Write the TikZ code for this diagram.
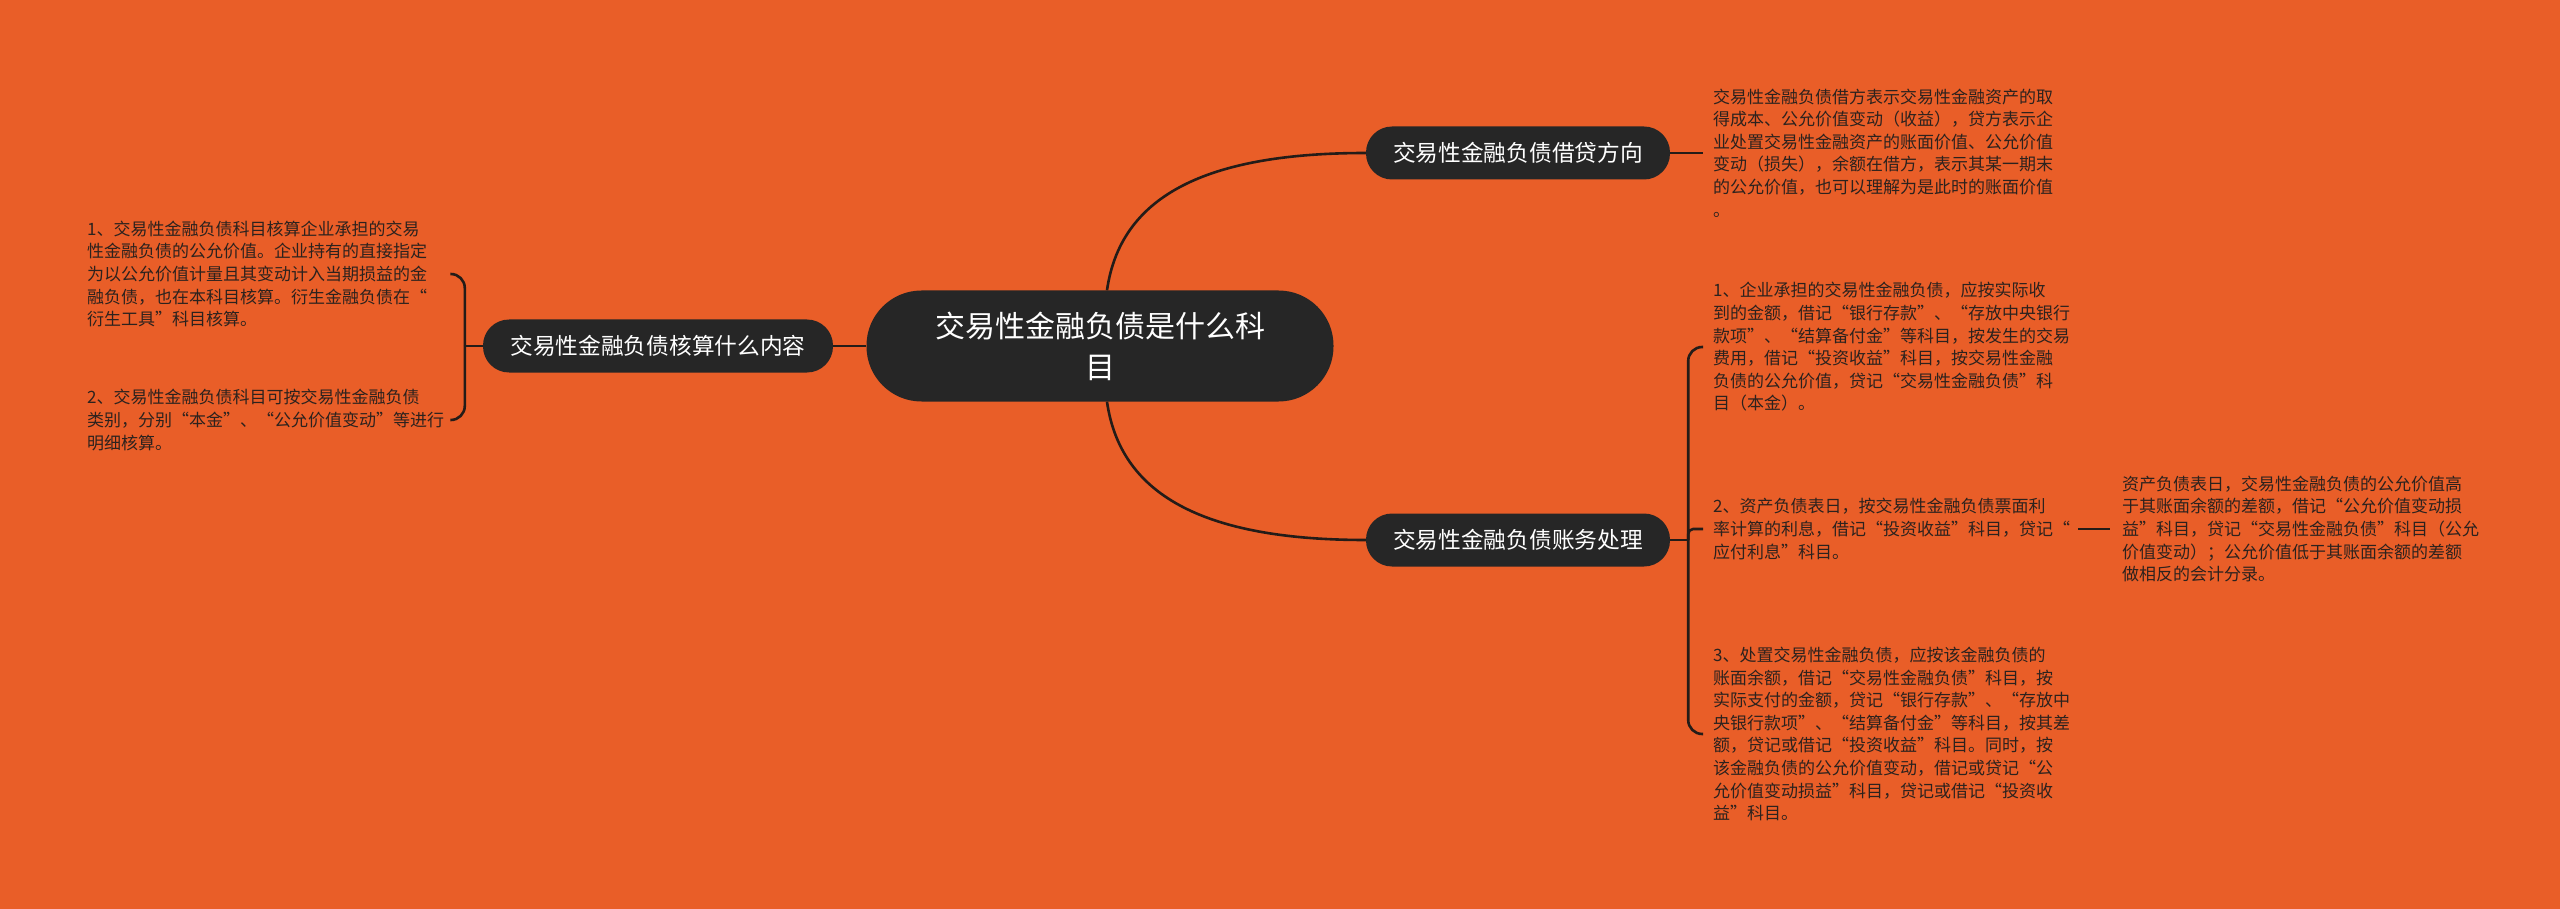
\documentclass[tikz,border=0pt]{standalone}
\usepackage{fontspec}
\newfontfamily\cjk{Noto Sans CJK SC}
\definecolor{bgorange}{RGB}{233,94,40}
\definecolor{nodedark}{RGB}{38,38,38}
\definecolor{linedark}{RGB}{36,28,24}
\definecolor{textdark}{RGB}{44,34,30}
\begin{document}
\begin{tikzpicture}[
    x=1pt, y=-1pt,
    every node/.style={font=\cjk},
    topic/.style={
        rounded corners=26pt,
        fill=nodedark,
        text=white,
        minimum height=53pt,
        inner sep=0pt,
        align=center,
        anchor=center,
        font=\cjk\fontsize{22.7}{27}\selectfont,
    },
    note/.style={
        anchor=west,
        align=left,
        inner sep=0pt,
        text width=#1,
        text=textdark,
        font=\cjk\fontsize{17}{22.6}\selectfont,
    },
    note/.default=365pt,
    link/.style={draw=linedark, line width=2.6pt},
]

% Column positions (pixels of the 2560 x 909 sheet)
\def\leftcol{87}
\def\rightcol{1713}
\def\farcol{2122}

% --- Background ---
\fill[bgorange] (0,0) rectangle (2560,909);

% --- Root ---
\node[topic, minimum width=467pt, minimum height=111pt, rounded corners=55pt,
      font=\cjk\fontsize{30}{41}\selectfont] (root) at (1100,346)
    {交易性金融负债是什么科\\目};

% --- Branches ---
\node[topic, minimum width=304pt] (dir) at (1518,153)
    {交易性金融负债借贷方向};
\node[topic, minimum width=304pt] (acct) at (1518,540)
    {交易性金融负债账务处理};
\node[topic, minimum width=350pt] (calc) at (658,346)
    {交易性金融负债核算什么内容};

\draw[link] ([xshift=7pt]root.north) .. controls +(13,-91) and +(-166,0) .. (dir.west);
\draw[link] ([xshift=7pt]root.south) .. controls +(13,91) and +(-166,0) .. (acct.west);
\draw[link] (root.west) -- (calc.east);

% --- Debit / credit direction ---
\node[note] (dirnote) at (\rightcol,153)
    {交易性金融负债借方表示交易性金融资产的取\\
     得成本、公允价值变动（收益），贷方表示企\\
     业处置交易性金融资产的账面价值、公允价值\\
     变动（损失），余额在借方，表示其某一期末\\
     的公允价值，也可以理解为是此时的账面价值\\
     。};
\draw[link] (dir.east) -- ([xshift=-10pt]dirnote.west);

% --- Accounting treatment ---
\node[note] (acctA) at (\rightcol,347)
    {1、企业承担的交易性金融负债，应按实际收\\
     到的金额，借记“银行存款”、“存放中央银行\\
     款项”、“结算备付金”等科目，按发生的交易\\
     费用，借记“投资收益”科目，按交易性金融\\
     负债的公允价值，贷记“交易性金融负债”科\\
     目（本金）。};
\node[note] (acctB) at (\rightcol,529)
    {2、资产负债表日，按交易性金融负债票面利\\
     率计算的利息，借记“投资收益”科目，贷记“\\
     应付利息”科目。};
\node[note] (acctC) at (\rightcol,734)
    {3、处置交易性金融负债，应按该金融负债的\\
     账面余额，借记“交易性金融负债”科目，按\\
     实际支付的金额，贷记“银行存款”、“存放中\\
     央银行款项”、“结算备付金”等科目，按其差\\
     额，贷记或借记“投资收益”科目。同时，按\\
     该金融负债的公允价值变动，借记或贷记“公\\
     允价值变动损益”科目，贷记或借记“投资收\\
     益”科目。};
\node[note=400pt] (acctD) at (\farcol,529)
    {资产负债表日，交易性金融负债的公允价值高\\
     于其账面余额的差额，借记“公允价值变动损\\
     益”科目，贷记“交易性金融负债”科目（公允\\
     价值变动）；公允价值低于其账面余额的差额\\
     做相反的会计分录。};

\coordinate (acctfork) at ([xshift=18pt]acct.east);
\draw[link] (acct.east) -- (acctfork);
\draw[link, rounded corners=14pt] (acctfork) |- ([xshift=-10pt]acctA.west);
\draw[link, rounded corners=5pt] (acctfork) |- ([xshift=-10pt]acctB.west);
\draw[link, rounded corners=14pt] (acctfork) |- ([xshift=-10pt]acctC.west);
\draw[link] (acctB.east) -- ([xshift=-12pt]acctD.west);

% --- What the account covers ---
\node[note=353pt] (calcA) at (\leftcol,274)
    {1、交易性金融负债科目核算企业承担的交易\\
     性金融负债的公允价值。企业持有的直接指定\\
     为以公允价值计量且其变动计入当期损益的金\\
     融负债，也在本科目核算。衍生金融负债在“\\
     衍生工具”科目核算。};
\node[note=353pt] (calcB) at (\leftcol,420)
    {2、交易性金融负债科目可按交易性金融负债\\
     类别，分别“本金”、“公允价值变动”等进行\\
     明细核算。};

\coordinate (calcfork) at ([xshift=-18pt]calc.west);
\draw[link] (calc.west) -- (calcfork);
\draw[link, rounded corners=14pt] (calcfork) |- ([xshift=10pt]calcA.east);
\draw[link, rounded corners=14pt] (calcfork) |- ([xshift=10pt]calcB.east);

\end{tikzpicture}
\end{document}
